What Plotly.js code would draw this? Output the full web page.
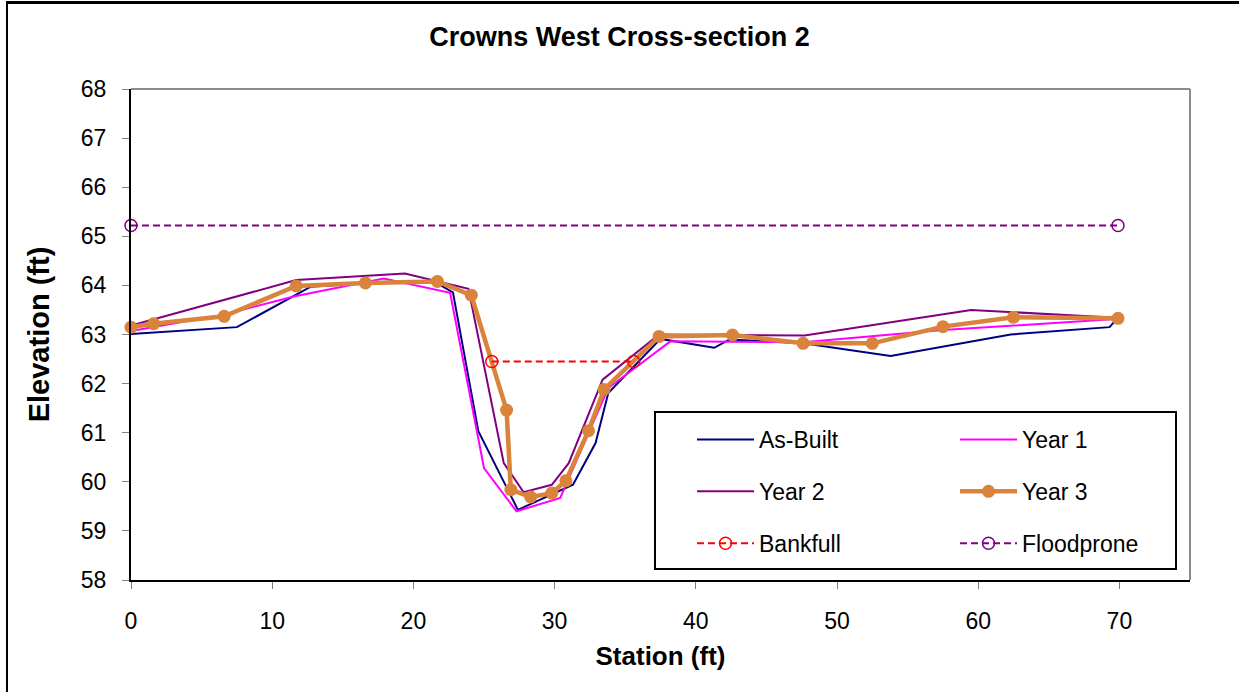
<!DOCTYPE html>
<html>
<head>
<meta charset="utf-8">
<script src="https://cdn.plot.ly/plotly-3.0.1.min.js"></script>
<style>
  html, body { margin: 0; padding: 0; background: #fff; }
  #chart { width: 1239px; height: 692px; position: absolute; left: 0; top: 0; }
  #frame { position: absolute; left: 6px; top: 1px; width: 1300px; height: 800px;
           border-top: 3px solid #000; border-left: 2px solid #000; pointer-events: none; }
</style>
</head>
<body>
<div id="chart"></div>
<div id="frame"></div>
<script>
// ---- Data ----
const asBuiltStation = [0, 7.5, 12.7, 17.0, 21.5, 22.8, 24.6, 27.4, 31.3, 32.9, 33.8, 37.5, 41.3, 42.4, 47.6, 53.8, 62.3, 69.3, 69.8];
const asBuiltElev    = [63.01, 63.15, 63.97, 64.05, 64.07, 63.86, 61.03, 59.43, 59.94, 60.79, 61.81, 62.91, 62.73, 62.90, 62.82, 62.56, 63.00, 63.15, 63.31];

const year1Station = [0, 6.5, 11.6, 17.9, 22.6, 25.0, 27.3, 30.4, 33.8, 38.2, 47.6, 57.5, 69.5];
const year1Elev    = [63.07, 63.40, 63.78, 64.14, 63.85, 60.28, 59.40, 59.67, 61.91, 62.86, 62.84, 63.09, 63.31];

const year2Station = [0, 11.7, 19.4, 23.9, 26.4, 27.8, 29.8, 31.0, 33.4, 37.4, 47.7, 59.5, 69.8];
const year2Elev    = [63.18, 64.11, 64.24, 63.93, 60.38, 59.79, 59.94, 60.38, 62.08, 63.00, 62.98, 63.50, 63.34];

const year3Station = [0, 1.6, 6.6, 11.7, 16.6, 21.7, 24.1, 26.6, 26.9, 28.3, 29.8, 30.8, 32.4, 33.5, 37.4, 42.6, 47.6, 52.5, 57.5, 62.5, 69.9];
const year3Elev    = [63.15, 63.22, 63.37, 63.99, 64.05, 64.08, 63.80, 61.46, 59.84, 59.69, 59.77, 60.02, 61.04, 61.88, 62.96, 62.99, 62.82, 62.82, 63.16, 63.35, 63.33];

const bankfullStation = [25.55, 35.6];
const bankfullElev    = [62.45, 62.45];

const floodproneStation = [0, 69.9];
const floodproneElev    = [65.22, 65.22];

const xTicks = [0, 10, 20, 30, 40, 50, 60, 70];
const yTicks = [58, 59, 60, 61, 62, 63, 64, 65, 66, 67, 68];

// ---- Chart ----
const FONT = 'Liberation Sans, Arial, sans-serif';

const traces = [
  { name: 'As-Built', x: asBuiltStation, y: asBuiltElev, mode: 'lines',
    line: { color: '#000080', width: 2 }, legend: 'legend', legendgroup: 'a', cliponaxis: false },
  { name: 'Year 2', x: year2Station, y: year2Elev, mode: 'lines',
    line: { color: '#800080', width: 2 }, legend: 'legend', legendgroup: 'b', cliponaxis: false },
  { name: 'Year 1', x: year1Station, y: year1Elev, mode: 'lines',
    line: { color: '#FF00FF', width: 2 }, legend: 'legend2', legendgroup: 'd', cliponaxis: false },
  { name: 'Year 3', x: year3Station, y: year3Elev, mode: 'lines+markers',
    line: { color: '#D9833B', width: 4.5 }, marker: { color: '#D9833B', size: 13 },
    legend: 'legend2', legendgroup: 'e', cliponaxis: false },
  { name: 'Bankfull', x: bankfullStation, y: bankfullElev, mode: 'lines+markers',
    line: { color: '#FF0000', width: 2, dash: '7px,4px' },
    marker: { symbol: 'circle-open', size: 12, color: '#FF0000', line: { width: 1.5, color: '#FF0000' } },
    legend: 'legend', legendgroup: 'c', cliponaxis: false },
  { name: 'Floodprone', x: floodproneStation, y: floodproneElev, mode: 'lines+markers',
    line: { color: '#800080', width: 2, dash: '7px,4px' },
    marker: { symbol: 'circle-open', size: 12, color: '#800080', line: { width: 1.5, color: '#800080' } },
    legend: 'legend2', legendgroup: 'f', cliponaxis: false }
];

const legendCommon = {
  font: { family: FONT, size: 23, color: '#000' },
  bgcolor: 'rgba(0,0,0,0)', borderwidth: 0,
  itemwidth: 57, traceorder: 'grouped', tracegroupgap: 19,
  xanchor: 'left', yanchor: 'top', y: 0.33
};

const layout = {
  width: 1239, height: 692,
  paper_bgcolor: 'rgba(255,255,255,1)', plot_bgcolor: '#fff',
  margin: { l: 131, r: 49, t: 89, b: 112 },
  font: { family: FONT, color: '#000' },
  title: { text: '<b>Crowns West Cross-section 2</b>', font: { family: FONT, size: 27, color: '#000' },
           xref: 'container', yref: 'container', x: 0.5, xanchor: 'center', y: 1 - 37 / 692, yanchor: 'middle' },
  xaxis: {
    range: [0, 75], tickvals: xTicks, ticktext: xTicks.map(String),
    showgrid: false, zeroline: false, showline: true, linecolor: '#000', linewidth: 2,
    ticks: 'outside', ticklen: 7, tickwidth: 1, tickcolor: '#808080',
    tickfont: { family: FONT, size: 23, color: '#000' }, ticklabelstandoff: 12,
    title: { text: '<b>Station (ft)</b>', font: { family: FONT, size: 26, color: '#000' }, standoff: 14 }
  },
  yaxis: {
    range: [58, 68], tickvals: yTicks, ticktext: yTicks.map(String),
    showgrid: false, zeroline: false, showline: true, linecolor: '#000', linewidth: 2,
    ticks: 'outside', ticklen: 7, tickwidth: 1, tickcolor: '#808080',
    tickfont: { family: FONT, size: 23, color: '#000' }, ticklabelstandoff: 11,
    title: { text: '<b>Elevation (ft)</b>', font: { family: FONT, size: 29, color: '#000' }, standoff: 23 }
  },
  showlegend: true,
  legend: Object.assign({}, legendCommon, { x: (692 - 131) / 1059 }),
  legend2: Object.assign({}, legendCommon, { x: (955 - 131) / 1059 }),
  shapes: [
    { type: 'line', xref: 'paper', yref: 'paper', x0: 0, x1: 1, y0: 1, y1: 1, line: { color: '#8C8C8C', width: 2 } },
    { type: 'line', xref: 'paper', yref: 'paper', x0: 1, x1: 1, y0: 0, y1: 1, line: { color: '#8C8C8C', width: 2 } },
    { type: 'rect', xref: 'paper', yref: 'paper', layer: 'above',
      x0: (655 - 131) / 1059, x1: (1176 - 131) / 1059, y0: (580 - 569) / 491, y1: (580 - 412) / 491,
      fillcolor: '#fff', line: { color: '#000', width: 2 } }
  ]
};

Plotly.newPlot('chart', traces, layout, { displayModeBar: false, staticPlot: true });
</script>
</body>
</html>
